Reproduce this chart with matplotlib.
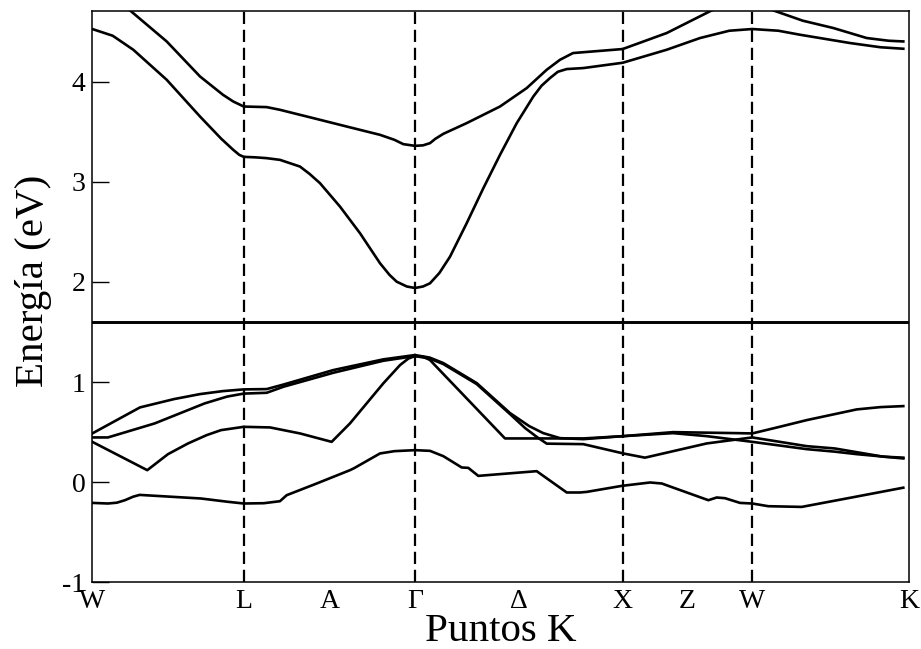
import matplotlib
matplotlib.use("Agg")
import matplotlib.pyplot as plt

plt.rcParams['font.family'] = ['Liberation Serif', 'DejaVu Serif']
plt.rcParams['axes.unicode_minus'] = False

# high-symmetry points along the path (normalised path length)
sym_pts = [0.0, 0.1854, 0.3951, 0.6494, 0.8081]
tick_pos = [0.0, 0.1854, 0.2902, 0.3951, 0.5223, 0.6494, 0.7288, 0.8081, 1.0]
tick_lab = ['W', 'L', 'A', 'Γ', 'Δ', 'X', 'Z', 'W', 'K']
e_fermi = 1.6

# conduction bands
k_c1 = [0.0, 0.0250, 0.0502, 0.0911, 0.1319, 0.1580, 0.1726, 0.1800, 0.1854,
        0.2000, 0.2135, 0.2298, 0.2543, 0.2660, 0.2788, 0.3033, 0.3278, 0.3523,
        0.3640, 0.3727, 0.3851, 0.3951, 0.4050, 0.4135, 0.4250, 0.4380, 0.4584,
        0.4788, 0.4992, 0.5197, 0.5400, 0.5500, 0.5604, 0.5700, 0.5809, 0.6012,
        0.6494, 0.7033, 0.7441, 0.7800, 0.8081, 0.8400, 0.8665, 0.9278, 0.9650,
        0.993]
e_c1 = [4.527, 4.46, 4.32, 4.02, 3.653, 3.43, 3.32, 3.27, 3.25,
        3.245, 3.237, 3.22, 3.153, 3.08, 2.987, 2.753, 2.487, 2.187,
        2.07, 2.003, 1.955, 1.94, 1.955, 1.987, 2.09, 2.253, 2.587,
        2.937, 3.27, 3.587, 3.853, 3.96, 4.037, 4.10, 4.127, 4.137,
        4.19, 4.32, 4.437, 4.51, 4.527, 4.51, 4.47, 4.387, 4.345,
        4.33]

k_c2 = [0.0, 0.0462, 0.0911, 0.1319, 0.1600, 0.1726, 0.1854, 0.2135, 0.2298,
        0.2543, 0.2706, 0.3115, 0.3523, 0.3700, 0.3808, 0.3951, 0.4050, 0.4135,
        0.4200, 0.4298, 0.4584, 0.4992, 0.5319, 0.5564, 0.5727, 0.5886, 0.6494,
        0.7033, 0.7584, 0.8081, 0.8338, 0.8700, 0.9073, 0.9482, 0.9750, 0.993]
e_c2 = [4.98, 4.713, 4.403, 4.053, 3.87, 3.803, 3.753, 3.747, 3.72,
        3.67, 3.637, 3.553, 3.47, 3.42, 3.377, 3.36, 3.365, 3.387,
        3.43, 3.48, 3.587, 3.753, 3.937, 4.12, 4.22, 4.287, 4.327,
        4.487, 4.713, 4.85, 4.713, 4.61, 4.537, 4.437, 4.41, 4.403]

# valence bands
k_v1 = [0.0, 0.0192, 0.0300, 0.0400, 0.0500, 0.0580, 0.1331, 0.1650, 0.1854,
        0.2100, 0.2298, 0.2380, 0.2748, 0.3155, 0.3206, 0.3523, 0.3700, 0.3951,
        0.4135, 0.4298, 0.4523, 0.4604, 0.4726, 0.5441, 0.5809, 0.5972, 0.6054,
        0.6482, 0.6829, 0.6972, 0.7543, 0.7645, 0.7747, 0.7931, 0.8081, 0.8277,
        0.8686, 0.9298, 0.993]
e_v1 = [-0.207, -0.213, -0.205, -0.18, -0.145, -0.127, -0.163, -0.195, -0.213,
        -0.21, -0.19, -0.13, -0.013, 0.12, 0.14, 0.287, 0.31, 0.32,
        0.313, 0.26, 0.147, 0.143, 0.063, 0.11, -0.103, -0.103, -0.097,
        -0.037, -0.003, -0.013, -0.18, -0.153, -0.16, -0.207, -0.213, -0.24,
        -0.247, -0.153, -0.055]

k_v2 = [0.0, 0.0673, 0.0800, 0.0927, 0.1172, 0.1400, 0.1576, 0.1854, 0.2176,
        0.2543, 0.2931, 0.3155, 0.3563, 0.3768, 0.3870, 0.3951, 0.4050, 0.4135,
        0.5053, 0.6012, 0.6502, 0.7110, 0.7890, 0.8081, 0.8400, 0.8747, 0.9360,
        0.9650, 0.993]
e_v2 = [0.403, 0.12, 0.20, 0.28, 0.387, 0.47, 0.52, 0.553, 0.547,
        0.487, 0.403, 0.587, 0.987, 1.17, 1.235, 1.26, 1.255, 1.22,
        0.437, 0.437, 0.46, 0.50, 0.49, 0.487, 0.55, 0.62, 0.727,
        0.75, 0.76]

k_v3 = [0.0, 0.0192, 0.0764, 0.1376, 0.1650, 0.1854, 0.2135, 0.2339, 0.2951,
        0.3563, 0.3951, 0.4130, 0.4298, 0.4707, 0.5115, 0.5300, 0.5441, 0.5564,
        0.6012, 0.6502, 0.6767, 0.7523, 0.8081, 0.8747, 0.9090, 0.9682, 0.993]
e_v3 = [0.447, 0.447, 0.587, 0.787, 0.855, 0.885, 0.893, 0.953, 1.093,
        1.213, 1.26, 1.235, 1.18, 0.98, 0.68, 0.54, 0.453, 0.385,
        0.38, 0.287, 0.245, 0.387, 0.447, 0.36, 0.337, 0.255, 0.245]

k_v4 = [0.0, 0.0584, 0.1000, 0.1319, 0.1600, 0.1854, 0.2135, 0.2339, 0.2951,
        0.3563, 0.3951, 0.4130, 0.4298, 0.4707, 0.5115, 0.5350, 0.5522, 0.5727,
        0.6012, 0.6502, 0.7110, 0.7523, 0.8081, 0.8747, 0.9090, 0.9360, 0.993]
e_v4 = [0.487, 0.747, 0.83, 0.88, 0.91, 0.927, 0.93, 0.975, 1.12,
        1.227, 1.27, 1.245, 1.19, 0.99, 0.69, 0.56, 0.49, 0.44,
        0.43, 0.46, 0.49, 0.46, 0.403, 0.33, 0.305, 0.28, 0.237]

bands = [(k_c1, e_c1), (k_c2, e_c2), (k_v1, e_v1),
         (k_v2, e_v2), (k_v3, e_v3), (k_v4, e_v4)]

fig = plt.figure(figsize=(9.21, 6.49), dpi=100)
ax = fig.add_axes([0.1002, 0.1028, 0.8868, 0.8807])

for k, e in bands:
    ax.plot(k, e, color='black', lw=1.9, solid_joinstyle='round')

for x in sym_pts[1:]:
    ax.axvline(x, color='black', lw=1.6, linestyle=(0, (5.5, 2.6)))
ax.axhline(e_fermi, color='black', lw=2.1)

ax.set_xlim(0, 1)
ax.set_ylim(-1, 4.71)
ax.set_xticks(tick_pos)
ax.set_xticklabels(tick_lab)
ax.set_yticks([-1, 0, 1, 2, 3, 4])
ax.set_yticklabels(['-1', '0', '1', '2', '3', '4'])
ax.tick_params(axis='y', direction='in', length=12, width=1, pad=5,
               labelsize=20)
ax.tick_params(axis='x', length=0, pad=5, labelsize=20)
for s in ax.spines.values():
    s.set_linewidth(1.1)

ax.set_xlabel('Puntos K', fontsize=29.5)
ax.set_ylabel('Energía (eV)', fontsize=29.5)
ax.xaxis.set_label_coords(0.5, -0.054)
ax.yaxis.set_label_coords(-0.049, 0.528)

fig.savefig('out.png', dpi=100)
